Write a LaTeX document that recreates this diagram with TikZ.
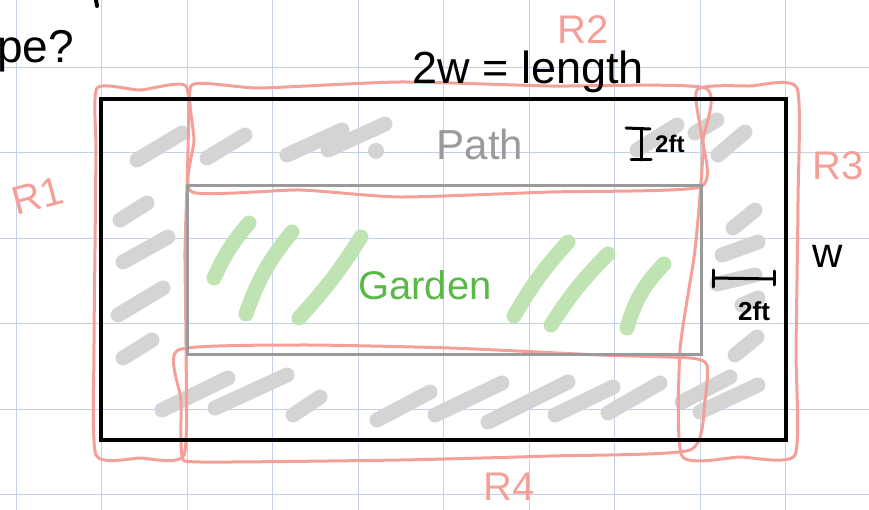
\documentclass[tikz,border=0pt]{standalone}
\usepackage{fontspec}
\setmainfont{Liberation Sans}
\usepackage{tikz}
\usetikzlibrary{calc}
\definecolor{grid}{HTML}{C3D0E6}
\definecolor{pen}{HTML}{F4A098}
\definecolor{hatch}{HTML}{D4D4D4}
\definecolor{leaf}{HTML}{BFE3B2}
\definecolor{walk}{HTML}{9A9A9A}
\definecolor{plant}{HTML}{5AB946}
\tikzset{
  gridln/.style={draw=grid, line width=0.9pt},
  redpen/.style={draw=pen, line width=3pt, line cap=round, line join=round},
  shade/.style={draw=hatch, line width=15pt, line cap=round},
  leafst/.style={draw=leaf, line width=15pt, line cap=round},
  ink/.style={draw=black, line width=3pt, line cap=round},
  txt/.style={inner sep=0pt, font=\fontsize{40}{44}\selectfont},
  redtxt/.style={txt, text=pen},
}

\begin{document}
\begin{tikzpicture}[x=1pt, y=-1pt]
\useasboundingbox (0,0) rectangle (869,510);

% ---- grid paper ----
\foreach \i in {0,...,10}
  \draw[gridln] ({16+85.5*\i},0) -- ({16+85.5*\i},510);
\foreach \j in {0,...,5}
  \draw[gridln] (0,{67+85.5*\j}) -- (869,{67+85.5*\j});

% ---- path shading ----
\foreach \xa/\ya/\xb/\yb in {137/160/182/133, 207/158/245/135, 287/155/342/130,
                   328/150/385/124, 637/150/677/125, 695/133/717/120,
                   718/155/745/132, 733/228/755/210, 722/255/758/242,
                   717/284/755/275, 742/305/758/298, 735/355/757/337,
                   120/220/147/203, 123/262/168/237, 118/315/163/288,
                   123/358/152/340, 162/410/228/378, 215/408/287/375,
                   293/415/320/397, 377/420/430/392, 435/415/502/383,
                   488/422/568/382, 555/415/613/387, 608/413/660/383,
                   682/402/730/377, 700/412/758/385}
  \draw[shade] (\xa,\ya) -- (\xb,\yb);
\fill[hatch] (376,151) circle (8);

% ---- garden strokes ----
\draw[leafst] (214,278) to[bend left=8] (249,223);
\draw[leafst] (246,314) to[bend left=10] (292,232);
\draw[leafst] (299,318) to[bend right=5] (361,237);
\draw[leafst] (514,316) to[bend left=6] (568,242);
\draw[leafst] (551,325) to[bend left=6] (608,254);
\draw[leafst] (627,328) to[bend left=14] (664,264);

% ---- regions ----
\draw[redpen] plot[smooth cycle, tension=0.35] coordinates {(97,88) (140,90) (186,86)
  (188,150) (185,250) (186,350) (184,455) (140,458) (96,455) (94,350) (95,250) (96,150)};
\draw[redpen] plot[smooth cycle, tension=0.35] coordinates {(192,85) (260,88) (400,82)
  (550,86) (705,88) (703,140) (700,187) (550,192) (400,197) (300,190) (192,192) (194,140)};
\draw[redpen] plot[smooth cycle, tension=0.35] coordinates {(697,90) (750,86) (797,88)
  (798,200) (796,350) (795,455) (740,457) (682,456) (680,350) (695,250) (703,150)};
\draw[redpen] plot[smooth cycle, tension=0.35] coordinates {(178,350) (300,345) (450,348)
  (600,355) (690,358) (707,365) (705,400) (690,450) (550,456) (400,460) (200,462)
  (182,455) (181,400)};

% ---- garden and yard ----
\draw[draw=walk, line width=3pt] (187,186) rectangle (701,354);
\draw[draw=black, line width=4pt] (101,99) rectangle (786,440);

% ---- dimensions ----
\draw[ink] (626,128) -- (650,129);
\draw[ink] (641,129) -- (641,160);
\draw[ink] (631,160) -- (651,160);
\coordinate (dl) at (713,278);
\coordinate (dr) at (774,279);
\draw[ink] (dl) -- (dr);
\draw[ink] ($(dl)+(0,-8)$) -- ($(dl)+(0,9)$);
\draw[ink] ($(dr)+(0,-8)$) -- ($(dr)+(0,6)$);
\draw[draw=black, line width=4pt, line cap=round] (96,0) -- (97,6);

% ---- labels ----
\node[txt, anchor=base east, font=\fontsize{46}{50}\selectfont] (ques) at (74,63) {pe?};
\node[txt, anchor=base, font=\fontsize{45}{50}\selectfont] (len) at (528,84) {2w = length};
\node[txt, anchor=base, text=walk, font=\fontsize{42}{46}\selectfont] (path) at (480,160) {Path};
\node[txt, anchor=base, text=plant] (garden) at (425,300) {Garden};
\node[txt, anchor=base, font=\fontsize{42}{46}\selectfont] (wid) at (828,268) {w};
\node[txt, anchor=base west, font=\bfseries\fontsize{24}{28}\selectfont] (fta) at (655,153) {2ft};
\node[txt, anchor=base west, font=\bfseries\fontsize{26}{30}\selectfont] (ftb) at (738,320) {2ft};
\node[redtxt, anchor=base] (rtwo) at (583,44) {R2};
\node[redtxt, rotate=15] (rone) at (38,196) {R1};
\node[redtxt, anchor=base west] (rthree) at (812,180) {R3};
\node[redtxt, anchor=base west] (rfour) at (483,500) {R4};

\end{tikzpicture}
\end{document}
